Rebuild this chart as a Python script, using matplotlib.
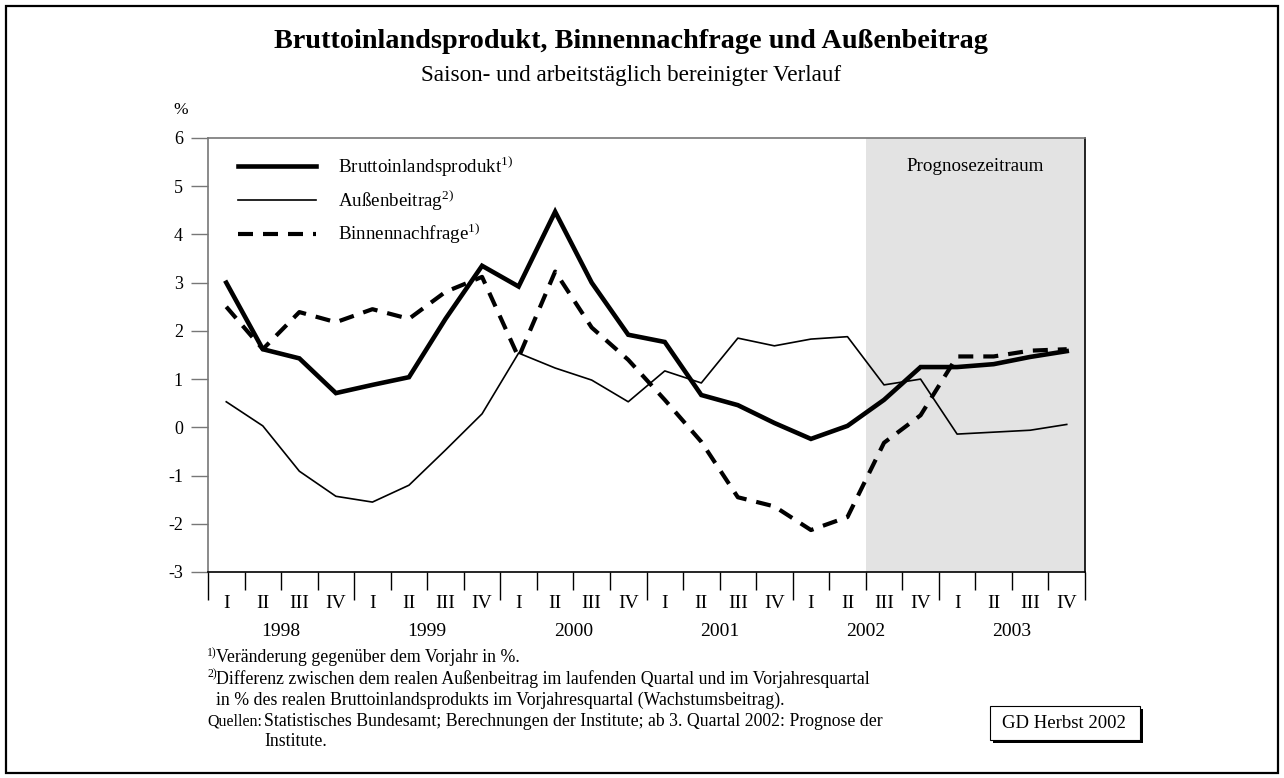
import matplotlib
matplotlib.use("Agg")
import matplotlib.pyplot as plt
from matplotlib.patches import Rectangle
import matplotlib.transforms as mtransforms

plt.rcParams['font.family'] = ['Liberation Serif', 'DejaVu Serif']
plt.rcParams['mathtext.fontset'] = 'custom'
plt.rcParams['mathtext.rm'] = 'Liberation Serif'
plt.rcParams['mathtext.it'] = 'Liberation Serif:italic'
plt.rcParams['mathtext.bf'] = 'Liberation Serif:bold'

# ---------------- data ----------------
years = ['1998', '1999', '2000', '2001', '2002', '2003']
quarters = ['I', 'II', 'III', 'IV']

bip = [3.00, 1.62, 1.43, 0.71, 0.88, 1.04, 2.25, 3.35,
       2.92, 4.47, 3.00, 1.92, 1.77, 0.67, 0.46, 0.09,
       -0.24, 0.03, 0.57, 1.25, 1.25, 1.31, 1.46, 1.58]
aussen = [0.53, 0.03, -0.91, -1.43, -1.55, -1.20, -0.47, 0.28,
          1.54, 1.23, 0.98, 0.53, 1.17, 0.92, 1.85, 1.69,
          1.83, 1.88, 0.88, 1.00, -0.14, -0.10, -0.06, 0.06]
binnen = [2.50, 1.62, 2.39, 2.18, 2.45, 2.25, 2.81, 3.12,
          1.45, 3.23, 2.07, 1.40, 0.57, -0.30, -1.45, -1.64,
          -2.13, -1.86, -0.32, 0.25, 1.47, 1.47, 1.59, 1.62]
forecast_start = 18  # index of 2002 Q III

labels = [r'Bruttoinlandsprodukt$^{\mathrm{1)}}$',
          r'Außenbeitrag$^{\mathrm{2)}}$',
          r'Binnennachfrage$^{\mathrm{1)}}$']

# ---------------- figure ----------------
W, H = 1284, 778
fig = plt.figure(figsize=(W / 100, H / 100), dpi=100)

def fx(x):
    return x / W

def fy(y):
    return 1 - y / H

ax = fig.add_axes([fx(208), fy(572), fx(1085) - fx(208), fy(138) - fy(572)])

n = len(bip)
xs = [i + 0.5 for i in range(n)]

ax.axvspan(forecast_start, n, color='#e3e3e3', zorder=0, lw=0)
ax.text((forecast_start + n) / 2, 5.4, 'Prognosezeitraum', ha='center', va='center',
        fontsize=13.7)

l_bip, = ax.plot(xs, bip, color='black', lw=3.3, solid_joinstyle='miter', zorder=4)
l_aus, = ax.plot(xs, aussen, color='black', lw=1.2, zorder=3)
l_bin, = ax.plot(xs, binnen, color='black', lw=3.0, dashes=(3.6, 2.4), zorder=4)

ax.set_xlim(0, n)
ax.set_ylim(-3, 6)
ax.set_yticks(range(-3, 7))
ax.set_yticklabels([str(v) for v in range(-3, 7)], fontsize=13)
ax.tick_params(axis='y', direction='out', length=12, width=1, color='#777777', pad=6)

ax.set_xticks(range(0, n + 1, 4))
ax.set_xticks([i for i in range(n + 1) if i % 4], minor=True)
ax.set_xticklabels([])
ax.tick_params(axis='x', which='major', direction='out', length=20, width=1, color='black')
ax.tick_params(axis='x', which='minor', direction='out', length=13, width=1, color='black')

for s in ['left', 'top']:
    ax.spines[s].set_color('#777777')
    ax.spines[s].set_linewidth(1.2)
for s in ['right', 'bottom']:
    ax.spines[s].set_color('black')
    ax.spines[s].set_linewidth(1.2)

trans = mtransforms.blended_transform_factory(ax.transData, fig.transFigure)
for i in range(n):
    ax.text(i + 0.5, fy(604), quarters[i % 4], transform=trans, ha='center', va='center',
            fontsize=14)
for j, yr in enumerate(years):
    ax.text(j * 4 + 2, fy(632), yr, transform=trans, ha='center', va='center', fontsize=14)

leg = ax.legend([l_bip, l_aus, l_bin], labels, loc='upper left',
                bbox_to_anchor=(fx(238), fy(155)), bbox_transform=fig.transFigure,
                frameon=False, fontsize=13.7, handlelength=4.1, handletextpad=1.15,
                labelspacing=0.5, borderaxespad=0, borderpad=0)

# titles
fig.text(fx(631), fy(42), 'Bruttoinlandsprodukt, Binnennachfrage und Außenbeitrag',
         ha='center', va='center', fontsize=20.3, fontweight='bold')
fig.text(fx(631), fy(75), 'Saison- und arbeitstäglich bereinigter Verlauf',
         ha='center', va='center', fontsize=16.7)
fig.text(fx(181), fy(110), '%', ha='center', va='center', fontsize=12.5)

# footnotes
fs = 12.8
sup = 8.5
fig.text(fx(207), fy(653), '1)', ha='left', va='center', fontsize=sup)
fig.text(fx(216), fy(658), 'Veränderung gegenüber dem Vorjahr in %.',
         ha='left', va='center', fontsize=fs)
fig.text(fx(207), fy(674), '2)', ha='left', va='center', fontsize=sup)
fig.text(fx(216), fy(679), 'Differenz zwischen dem realen Außenbeitrag im laufenden Quartal und im Vorjahresquartal',
         ha='left', va='center', fontsize=fs)
fig.text(fx(216), fy(700), 'in % des realen Bruttoinlandsprodukts im Vorjahresquartal (Wachstumsbeitrag).',
         ha='left', va='center', fontsize=fs)
fig.text(fx(207), fy(722), 'Quellen:', ha='left', va='center', fontsize=11.5)
fig.text(fx(264), fy(722), 'Statistisches Bundesamt; Berechnungen der Institute; ab 3. Quartal 2002: Prognose der',
         ha='left', va='center', fontsize=fs)
fig.text(fx(264), fy(742), 'Institute.', ha='left', va='center', fontsize=fs)

# GD box with shadow
fig.patches.append(Rectangle((fx(993), fy(743)), fx(150), fy(0) - fy(34), transform=fig.transFigure,
                             facecolor='black', edgecolor='none'))
fig.patches.append(Rectangle((fx(990), fy(740)), fx(150), fy(0) - fy(34), transform=fig.transFigure,
                             facecolor='white', edgecolor='black', lw=0.8))
fig.text(fx(1064), fy(723), 'GD Herbst 2002', ha='center', va='center', fontsize=13.5)

# outer frame
fig.patches.append(Rectangle((fx(6), fy(773)), fx(1272), fy(0) - fy(767), transform=fig.transFigure,
                             facecolor='none', edgecolor='black', lw=1.6))

fig.savefig('out.png', dpi=100)
